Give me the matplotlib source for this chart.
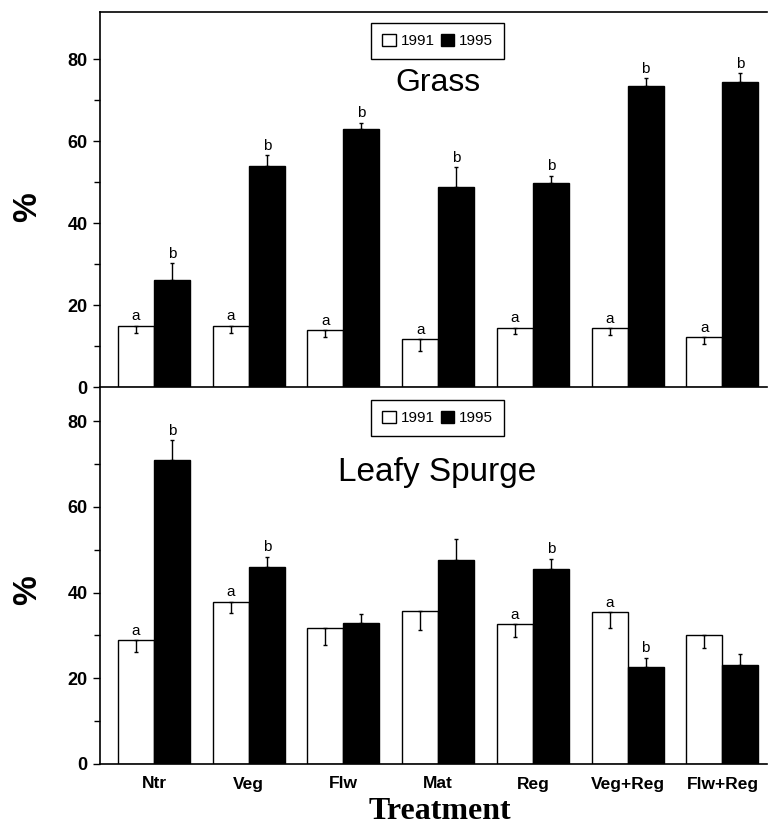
import matplotlib
matplotlib.use("Agg")
import matplotlib.pyplot as plt
import numpy as np
from matplotlib.patches import Patch

treatments = ["Ntr", "Veg", "Flw", "Mat", "Reg", "Veg+Reg", "Flw+Reg"]

# Grass (%)
grass_1991 = [14.9, 14.9, 13.9, 11.7, 14.5, 14.4, 12.2]
grass_1991_err = [1.7, 1.8, 1.7, 2.8, 1.6, 1.6, 1.6]
grass_1995 = [26.0, 54.0, 63.0, 48.7, 49.7, 73.5, 74.3]
grass_1995_err = [4.2, 2.5, 1.5, 4.9, 1.9, 1.8, 2.2]
grass_lbl_1991 = ["a", "a", "a", "a", "a", "a", "a"]
grass_lbl_1995 = ["b", "b", "b", "b", "b", "b", "b"]

# Leafy spurge (%)
spurge_1991 = [28.9, 37.9, 31.7, 35.7, 32.6, 35.4, 30.2]
spurge_1991_err = [2.7, 2.6, 3.9, 4.4, 2.9, 3.7, 3.2]
spurge_1995 = [71.0, 45.9, 32.8, 47.7, 45.6, 22.6, 23.2]
spurge_1995_err = [4.6, 2.5, 2.3, 4.9, 2.3, 2.2, 2.4]
spurge_lbl_1991 = ["a", "a", "", "", "a", "a", ""]
spurge_lbl_1995 = ["b", "b", "", "", "b", "b", ""]

plt.rcParams['font.family'] = ['Liberation Sans', 'DejaVu Sans']

W, H = 768, 835
fig = plt.figure(figsize=(W / 100, H / 100), dpi=100)

ax_left = 100 / W
ax_w = 667 / W
ax_top = fig.add_axes([ax_left, 1 - 387 / H, ax_w, 375 / H])
ax_bot = fig.add_axes([ax_left, 1 - 764 / H, ax_w, 377 / H])
ax_bot.patch.set_visible(False)

x = np.arange(len(treatments))
bw = 0.38


def draw_panel(ax, v91, e91, v95, e95, l91, l95, title, ytop, title_y, leg_y, title_size):
	zeros = np.zeros(len(x))
	ax.bar(x - bw / 2, v91, bw, color="white", edgecolor="black", linewidth=1.0, zorder=2)
	ax.bar(x + bw / 2, v95, bw, color="black", edgecolor="black", linewidth=1.0, zorder=2)
	ax.errorbar(x - bw / 2, v91, yerr=[e91, zeros], fmt="none", ecolor="black",
		elinewidth=1.0, capsize=1.5, capthick=1.0, zorder=3)
	ax.errorbar(x + bw / 2, v95, yerr=[zeros, e95], fmt="none", ecolor="black",
		elinewidth=1.0, capsize=1.5, capthick=1.0, zorder=3)
	for i in range(len(x)):
		if l91[i]:
			ax.text(x[i] - bw / 2, v91[i] + 0.6, l91[i], ha="center", va="bottom", fontsize=11)
		if l95[i]:
			ax.text(x[i] + bw / 2, v95[i] + e95[i] + 0.6, l95[i], ha="center", va="bottom", fontsize=11)
	ax.set_xlim(-0.57, 6.47)
	ax.set_ylim(0, ytop)
	ax.set_yticks([0, 20, 40, 60, 80])
	ax.set_yticks([10, 30, 50, 70], minor=True)
	ax.tick_params(axis="y", which="major", direction="out", length=5, width=1, labelsize=13, pad=4)
	ax.tick_params(axis="y", which="minor", direction="out", length=4, width=1)
	for lab in ax.get_yticklabels():
		lab.set_fontweight("bold")
	ax.spines["right"].set_visible(False)
	for s in ax.spines.values():
		s.set_zorder(4)
		s.set_linewidth(1.2)
	ax.text(0.506, title_y, title, transform=ax.transAxes, ha="center", va="center", fontsize=title_size)
	handles = [Patch(facecolor="white", edgecolor="black", linewidth=1.0),
		Patch(facecolor="black", edgecolor="black")]
	leg = ax.legend(handles, ["1991", "1995"], ncol=2, loc="upper center",
		bbox_to_anchor=(0.506, leg_y), borderaxespad=0, fontsize=11,
		handlelength=0.9, handleheight=0.9, handletextpad=0.3, columnspacing=0.4,
		fancybox=False, edgecolor="black", framealpha=1, borderpad=0.7)
	leg.get_frame().set_linewidth(1.0)


draw_panel(ax_top, grass_1991, grass_1991_err, grass_1995, grass_1995_err,
	grass_lbl_1991, grass_lbl_1995, "Grass", 91.5, 0.81, 0.971, 23)
draw_panel(ax_bot, spurge_1991, spurge_1991_err, spurge_1995, spurge_1995_err,
	spurge_lbl_1991, spurge_lbl_1995, "Leafy Spurge", 88, 0.772, 0.966, 24)

ax_top.set_xticks([])
ax_bot.spines["top"].set_visible(False)
ax_bot.set_xticks(x)
ax_bot.set_xticklabels(treatments, fontsize=12.5, fontweight="bold")
ax_bot.tick_params(axis="x", length=0, pad=9)

fig.text(0.036, 0.752, "%", rotation=90, ha="center", va="center", fontsize=24, fontweight="bold")
fig.text(0.036, 0.293, "%", rotation=90, ha="center", va="center", fontsize=24, fontweight="bold")
fig.text(0.573, 0.028, "Treatment", ha="center", va="center", fontsize=23, fontweight="bold",
	family=["Liberation Serif", "DejaVu Serif"])

fig.savefig("out.png", dpi=100)
